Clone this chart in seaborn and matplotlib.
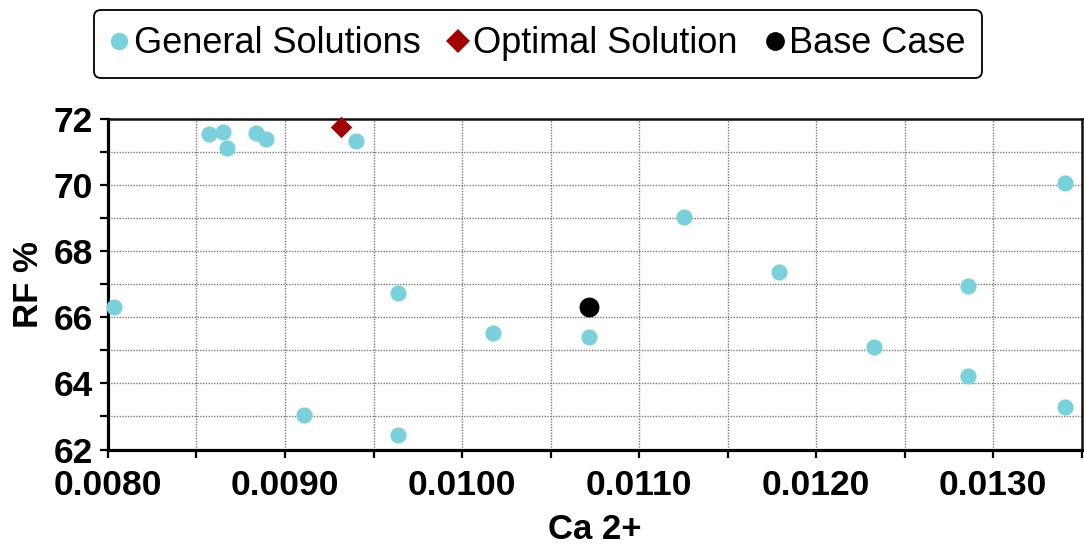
import numpy as np
import pandas as pd
import matplotlib
matplotlib.use("Agg")
import matplotlib.pyplot as plt
from matplotlib.lines import Line2D
from matplotlib.ticker import MultipleLocator, FormatStrFormatter
import seaborn as sns

# ---- data ----
gen_x = [0.008034, 0.008569, 0.008652, 0.008671, 0.008836, 0.008891, 0.009400,
         0.009105, 0.009640, 0.009640, 0.010176, 0.010717, 0.011254, 0.011788,
         0.012324, 0.012859, 0.012859, 0.013404, 0.013406]
gen_y = [66.30, 71.54, 71.59, 71.11, 71.56, 71.40, 71.34,
         63.05, 66.74, 62.44, 65.52, 65.40, 69.02, 67.38,
         65.11, 66.95, 64.23, 63.28, 70.07]
opt_x = [0.009317]
opt_y = [71.74]
base_x = [0.010717]
base_y = [66.32]
labels = ["General Solutions", "Optimal Solution", "Base Case"]
x_label = "Ca 2+"
y_label = "RF %"

c_gen = "#79D1DB"
c_opt = "#A30000"
c_base = "#000000"

sns.set_style("ticks")
plt.rcParams["font.family"] = ["Liberation Sans", "DejaVu Sans"]
plt.rcParams["text.color"] = "black"
plt.rcParams["axes.labelcolor"] = "black"
plt.rcParams["xtick.color"] = "black"
plt.rcParams["ytick.color"] = "black"

fig = plt.figure(figsize=(10.84, 5.49), dpi=100)
ax = fig.add_axes([0.0996, 0.1812, 0.998 - 0.0996, 0.7838 - 0.1812])

df_gen = pd.DataFrame({"x": gen_x, "y": gen_y})
df_opt = pd.DataFrame({"x": opt_x, "y": opt_y})
df_base = pd.DataFrame({"x": base_x, "y": base_y})

sns.scatterplot(data=df_gen, x="x", y="y", ax=ax, color=c_gen, s=135,
                marker="o", linewidth=0, clip_on=False, zorder=3)
sns.scatterplot(data=df_opt, x="x", y="y", ax=ax, color=c_opt, s=120,
                marker="D", linewidth=0, clip_on=False, zorder=4)
sns.scatterplot(data=df_base, x="x", y="y", ax=ax, color=c_base, s=205,
                marker="o", linewidth=0, clip_on=False, zorder=4)

ax.set_xlim(0.008, 0.0135)
ax.set_ylim(62, 72)
ax.xaxis.set_major_locator(MultipleLocator(0.001))
ax.xaxis.set_minor_locator(MultipleLocator(0.0005))
ax.xaxis.set_major_formatter(FormatStrFormatter("%.4f"))
ax.yaxis.set_major_locator(MultipleLocator(2))
ax.yaxis.set_minor_locator(MultipleLocator(1))

ax.grid(True, which="both", color="#7a7a7a", linestyle=(0, (1, 1)), linewidth=1.0)
ax.set_axisbelow(True)

ax.tick_params(axis="both", which="both", direction="out", length=6, width=1.6,
               color="black")
ax.tick_params(axis="both", which="major", labelsize=25.5, labelcolor="black")
ax.tick_params(axis="y", which="major", pad=5)
ax.tick_params(axis="x", which="major", pad=8)
for lab in ax.get_xticklabels() + ax.get_yticklabels():
    lab.set_fontweight("bold")

for side in ["left", "bottom"]:
    ax.spines[side].set_linewidth(2.3)
    ax.spines[side].set_color("black")
for side in ["top", "right"]:
    ax.spines[side].set_linewidth(1.8)
    ax.spines[side].set_color("#111111")
    ax.spines[side].set_visible(True)

ax.set_xlabel(x_label, fontsize=25, fontweight="bold", labelpad=8, color="black")
ax.set_ylabel(y_label, fontsize=25, fontweight="bold", labelpad=6, color="black")

handles = [
    Line2D([], [], marker="o", linestyle="none", color=c_gen, markersize=12.5, markeredgewidth=0),
    Line2D([], [], marker="D", linestyle="none", color=c_opt, markersize=12, markeredgewidth=0),
    Line2D([], [], marker="o", linestyle="none", color=c_base, markersize=13.5, markeredgewidth=0),
]
leg = fig.legend(handles, labels, loc="center", bbox_to_anchor=(538 / 1084, 1 - 44 / 549),
                 ncol=3, fontsize=26, frameon=True, fancybox=True,
                 handlelength=0.5, handletextpad=0.15, columnspacing=0.8,
                 borderpad=0.45, borderaxespad=0)
leg.get_frame().set_edgecolor("black")
leg.get_frame().set_linewidth(1.3)
leg.get_frame().set_alpha(1)
for t in leg.get_texts():
    t.set_color("black")

fig.savefig("out.png", dpi=100)
